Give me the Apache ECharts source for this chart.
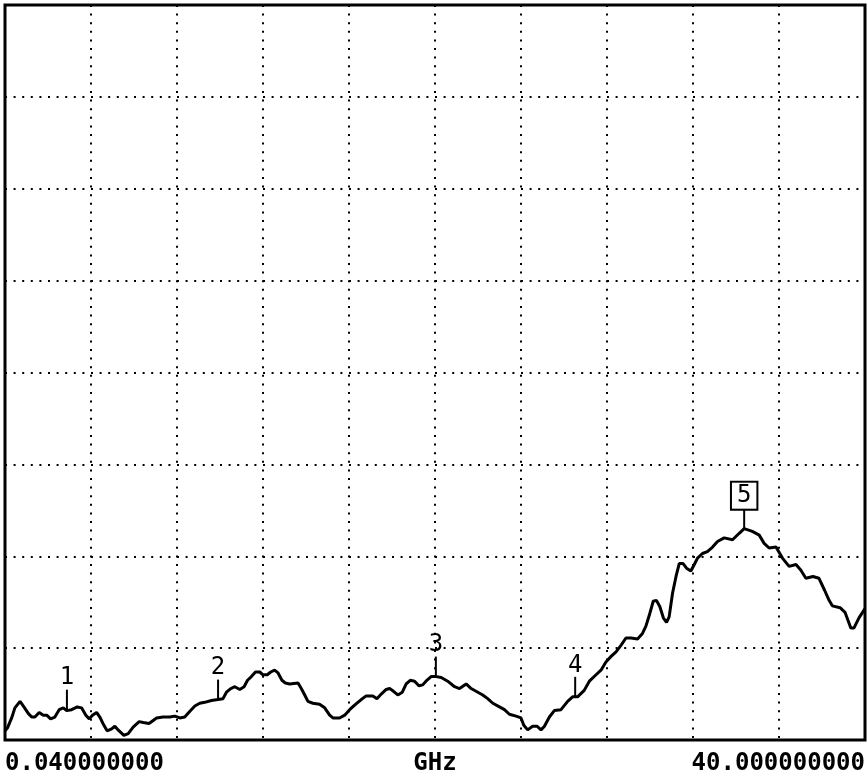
<!DOCTYPE html>
<html>
<head>
<meta charset="utf-8">
<title>Spectrum trace</title>
<script src="https://cdn.jsdelivr.net/npm/echarts@6/dist/echarts.min.js"></script>
<style>
  html, body { margin: 0; padding: 0; background: #fff; }
  #chart { width: 868px; height: 776px; }
</style>
</head>
<body>
<div id="chart"></div>
<script>
// trace: frequency (GHz) and level (divisions from bottom)
const freqGHz = [
  0.00, 0.11, 0.31, 0.46, 0.70, 0.88, 1.08, 1.24, 1.39, 1.59, 1.78, 1.94, 2.12, 2.32, 2.52, 2.71,
  2.87, 3.10, 3.36, 3.56, 3.76, 3.92, 4.07, 4.26, 4.41, 4.60, 4.75, 4.96, 5.11, 5.26, 5.53, 5.73,
  5.96, 6.24, 6.43, 6.70, 7.05, 7.35, 7.67, 7.90, 8.13, 8.36, 8.59, 8.83, 9.06, 9.29, 9.60, 9.91,
  10.14, 10.30, 10.50, 10.69, 10.92, 11.12, 11.28, 11.46, 11.65, 11.85, 12.00, 12.20, 12.36, 12.54,
  12.70, 12.88, 13.04, 13.24, 13.63, 13.78, 13.94, 14.09, 14.32, 14.63, 14.87, 15.10, 15.25, 15.56,
  15.80, 16.03, 16.26, 16.57, 16.80, 17.11, 17.30, 17.50, 17.73, 17.89, 18.07, 18.27, 18.48, 18.66,
  18.85, 19.05, 19.25, 19.43, 19.62, 19.82, 20.06, 20.29, 20.59, 20.91, 21.14, 21.45, 21.68, 21.91,
  22.22, 22.45, 22.69, 23.00, 23.23, 23.46, 23.77, 24.00, 24.13, 24.31, 24.54, 24.75, 24.93, 25.09,
  25.32, 25.55, 25.86, 26.17, 26.40, 26.63, 26.94, 27.18, 27.49, 27.72, 27.95, 28.19, 28.42, 28.65,
  28.88, 29.12, 29.42, 29.65, 29.81, 29.97, 30.15, 30.30, 30.46, 30.62, 30.77, 30.89, 31.05, 31.21,
  31.36, 31.54, 31.70, 31.90, 32.06, 32.21, 32.44, 32.67, 32.91, 33.14, 33.45, 33.84, 34.15, 34.38,
  34.76, 35.08, 35.31, 35.54, 35.86, 36.16, 36.47, 36.79, 37.01, 37.25, 37.58, 37.86, 38.12, 38.33,
  38.48, 38.84, 39.07, 39.34, 39.49, 39.72, 40.00
]
const level = [
  0.10, 0.13, 0.24, 0.35, 0.42, 0.36, 0.29, 0.25, 0.25, 0.30, 0.27, 0.27, 0.23, 0.25, 0.33, 0.35,
  0.32, 0.33, 0.36, 0.35, 0.27, 0.23, 0.27, 0.30, 0.25, 0.16, 0.10, 0.12, 0.15, 0.11, 0.05, 0.07,
  0.14, 0.20, 0.19, 0.18, 0.24, 0.25, 0.25, 0.26, 0.24, 0.25, 0.31, 0.37, 0.40, 0.41, 0.43, 0.44,
  0.45, 0.52, 0.56, 0.58, 0.55, 0.58, 0.65, 0.69, 0.74, 0.74, 0.71, 0.71, 0.74, 0.76,
  0.73, 0.65, 0.62, 0.61, 0.62, 0.56, 0.49, 0.42, 0.40, 0.39, 0.35, 0.27, 0.24, 0.24,
  0.27, 0.33, 0.38, 0.44, 0.48, 0.48, 0.45, 0.50, 0.55, 0.56, 0.53, 0.49, 0.52, 0.61,
  0.65, 0.64, 0.59, 0.60, 0.65, 0.69, 0.69, 0.68, 0.64, 0.58, 0.56, 0.61, 0.56, 0.53,
  0.49, 0.45, 0.40, 0.36, 0.33, 0.28, 0.26, 0.24, 0.16, 0.11, 0.15, 0.15, 0.11, 0.15,
  0.25, 0.32, 0.33, 0.42, 0.47, 0.47, 0.54, 0.64, 0.71, 0.76, 0.85, 0.91, 0.96, 1.03,
  1.11, 1.11, 1.10, 1.16, 1.24, 1.36, 1.51, 1.52, 1.45, 1.33, 1.28, 1.34, 1.60, 1.78,
  1.92, 1.92, 1.87, 1.84, 1.91, 1.98, 2.03, 2.05, 2.10, 2.16, 2.20, 2.18, 2.25, 2.30,
  2.27, 2.23, 2.14, 2.09, 2.10, 1.98, 1.89, 1.91, 1.85, 1.76, 1.78, 1.76, 1.63, 1.52,
  1.46, 1.44, 1.39, 1.22, 1.22, 1.33, 1.43
]

// markers
const markerNames = ['1', '2', '3', '4', '5']
const markerFreq = [2.88, 9.91, 20.04, 26.52, 34.38]
const markerLevel = [0.33, 0.44, 0.69, 0.47, 2.30]
const activeMarker = 4

const xMin = 0
const xMax = 40
const startLabel = '0.040000000'
const centerLabel = 'GHz'
const stopLabel = '40.000000000'

const chart = echarts.init(document.getElementById('chart'))

const dotted = { color: '#000', width: 2, type: [2, 6.6] }

chart.setOption({
  animation: false,
  backgroundColor: '#fff',
  grid: {
    left: 5, right: 2, top: 5, bottom: 36,
    show: true,
    borderColor: '#000',
    borderWidth: 3,
    backgroundColor: 'transparent'
  },
  xAxis: {
    type: 'value',
    min: xMin,
    max: xMax,
    interval: 4,
    axisLine: { show: false },
    axisTick: { show: false },
    splitLine: { show: true, lineStyle: dotted },
    axisLabel: {
      show: true,
      margin: 12,
      color: '#000',
      fontFamily: 'DejaVu Sans Mono',
      fontWeight: 'bold',
      fontSize: 24,
      showMinLabel: true,
      showMaxLabel: true,
      alignMinLabel: 'left',
      alignMaxLabel: 'right',
      formatter: function (v) {
        if (v === xMin) return startLabel
        if (v === xMax) return stopLabel
        if (v === (xMin + xMax) / 2) return centerLabel
        return ''
      }
    }
  },
  yAxis: {
    type: 'value',
    min: 0,
    max: 8,
    interval: 1,
    axisLine: { show: false },
    axisTick: { show: false },
    axisLabel: { show: false },
    splitLine: { show: true, lineStyle: dotted }
  },
  series: [
    {
      type: 'line',
      data: freqGHz.map((f, i) => [f, level[i]]),
      showSymbol: false,
      symbol: 'none',
      lineStyle: { color: '#000', width: 3 },
      z: 3
    },
    {
      type: 'scatter',
      symbol: 'rect',
      symbolSize: [2, 20],
      symbolOffset: [0, -10],
      itemStyle: { color: '#000', opacity: 1 },
      z: 4,
      label: {
        show: true,
        position: 'top',
        distance: 1,
        color: '#000',
        fontFamily: 'DejaVu Sans Mono',
        fontSize: 24,
        lineHeight: 21,
        formatter: p => markerNames[p.dataIndex]
      },
      data: markerFreq.map((f, i) => {
        const item = { value: [f, markerLevel[i]] }
        if (i === activeMarker) {
          item.label = {
            borderColor: '#000',
            borderWidth: 2,
            padding: [3, 5, 2, 5],
            distance: 0,
            backgroundColor: '#fff'
          }
        }
        return item
      })
    }
  ]
})
</script>
</body>
</html>
